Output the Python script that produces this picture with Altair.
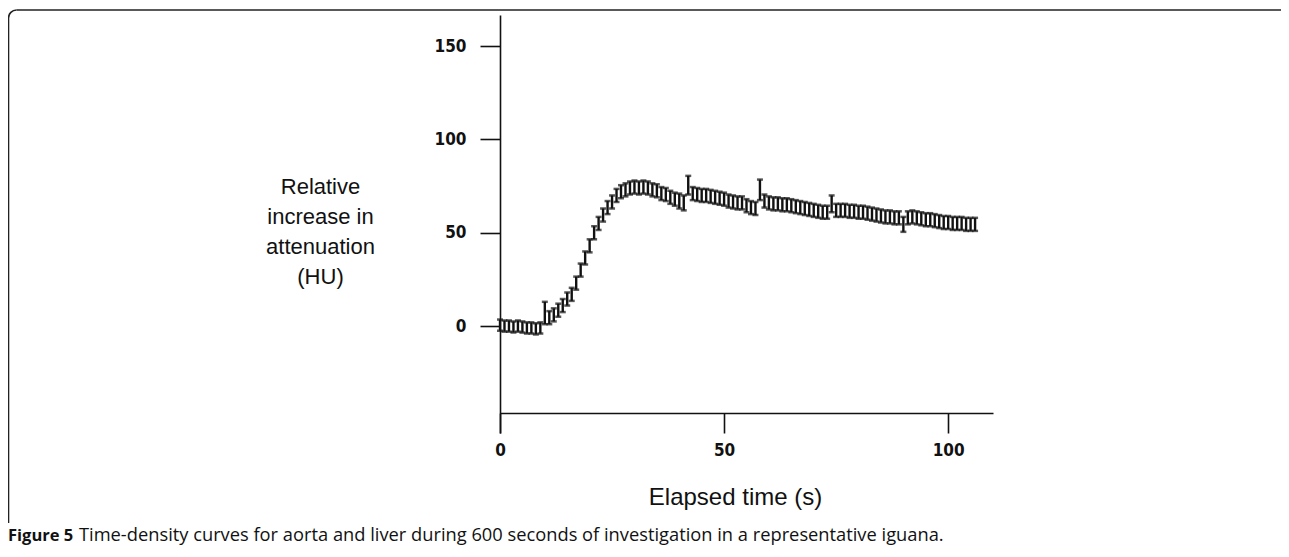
import altair as alt
import pandas as pd

# ---- data ----
times = list(range(107))
means = [0.5, 0, 0, -0.5, 0, -0.5, -1, -1, -1.5, -1,
         7, 4.5, 6, 8.5, 11, 14.5, 17, 23, 30, 36.5,
         43, 50, 55, 59.5, 63.5, 66.5, 70, 72, 73, 74,
         74.5, 74, 74.5, 74, 73, 72.5, 71, 70.5, 69, 68,
         67, 66, 75.5, 71, 70.5, 70, 70, 69.5, 69, 68.5,
         68, 67, 66.5, 66, 66, 64.5, 63.5, 63, 73, 67,
         66, 65.5, 65.5, 65, 65, 64.5, 64, 63.5, 63, 62.5,
         62, 61.5, 61, 61, 65.5, 62, 62, 62, 61.5, 61.5,
         61, 61, 60.5, 60, 59.5, 59, 58.5, 58.5, 58, 58,
         54.5, 58, 58.5, 58, 57.5, 57, 57, 56.5, 56, 55.5,
         55.5, 55, 55, 55, 54.5, 54.5, 54.5]
errs = [3, 3, 3, 3, 3, 3, 3, 3, 3, 3,
        6, 3.5, 3.5, 3.5, 3.5, 3.5, 3.5, 3.5, 3.5, 3.5,
        3.5, 3.5, 3.5, 3.5, 3.5, 3.5, 3.5, 3.5, 3.5, 3.5,
        3.5, 3.5, 3.5, 3.5, 3.5, 3.5, 3.5, 3.5, 3.5, 3.5,
        4, 4, 5, 3.5, 3.5, 3.5, 3.5, 3.5, 3.5, 3.5,
        3.5, 3.5, 3.5, 3.5, 3.5, 3.5, 3.5, 3.5, 5.5, 3.5,
        3.5, 3.5, 3.5, 3.5, 3.5, 3.5, 3.5, 3.5, 3.5, 3.5,
        3.5, 3.5, 3.5, 3.5, 4.5, 3.5, 3.5, 3.5, 3.5, 3.5,
        3.5, 3.5, 3.5, 3.5, 3.5, 3.5, 3.5, 3.5, 3.5, 3.5,
        4, 3.5, 3.5, 3.5, 3.5, 3.5, 3.5, 3.5, 3.5, 3.5,
        3.5, 3.5, 3.5, 3.5, 3.5, 3.5, 3.5]

x_ticks = [0, 50, 100]
y_ticks = [0, 50, 100, 150]
y_title = ["Relative", "increase in", "attenuation", "(HU)"]
x_title = "Elapsed time (s)"
caption_bold = ["Figure 5"]
caption_rest = ["Time-density curves for aorta and liver during 600 seconds of investigation in a representative iguana."]

df = pd.DataFrame({"t": times, "m": means, "e": errs})
df["lo"] = df["m"] - df["e"]
df["hi"] = df["m"] + df["e"]

W, H = 493, 418
TICKFONT = "DejaVu Sans Condensed, DejaVu Sans"

xscale = alt.Scale(domain=[0, 110], nice=False, zero=False)
yscale = alt.Scale(domain=[-57.3, 166.7], nice=False, zero=False)

xaxis = alt.Axis(values=x_ticks, offset=-20, tickSize=20, labelPadding=9,
                 grid=False, title=x_title, titleX=235, titleY=84,
                 titleBaseline="middle", titleAlign="center",
                 titleFont="Liberation Sans", titleFontSize=24,
                 titleFontWeight="normal", titleColor="#111",
                 labelFont=TICKFONT, labelFontSize=17, labelFontWeight="bold",
                 labelColor="#111", domainColor="#111", tickColor="#111",
                 domainWidth=1.6, tickWidth=1.6, labelFlush=False)
yaxis = alt.Axis(values=y_ticks, tickSize=20, labelPadding=14, grid=False,
                 title=y_title, titleAngle=0, titleX=-180, titleY=171,
                 titleBaseline="middle", titleAlign="center", titleLineHeight=30,
                 titleFont="Liberation Sans", titleFontSize=22,
                 titleFontWeight="normal", titleColor="#111",
                 labelFont=TICKFONT, labelFontSize=17, labelFontWeight="bold",
                 labelColor="#111", domainColor="#111", tickColor="#111",
                 domainWidth=1.6, tickWidth=1.6)

base = alt.Chart(df)
bars = base.mark_rule(color="#111", strokeWidth=2.4).encode(
    x=alt.X("t:Q", scale=xscale, axis=xaxis),
    y=alt.Y("lo:Q", scale=yscale, axis=yaxis),
    y2="hi:Q",
)
cap_lo = base.mark_tick(color="#111", orient="horizontal", size=6, thickness=2.5).encode(
    x=alt.X("t:Q", scale=xscale, axis=xaxis),
    y=alt.Y("lo:Q", scale=yscale, axis=yaxis),
)
cap_hi = base.mark_tick(color="#111", orient="horizontal", size=6, thickness=2.5).encode(
    x=alt.X("t:Q", scale=xscale, axis=xaxis),
    y=alt.Y("hi:Q", scale=yscale, axis=yaxis),
)

# caption
cap1 = alt.Chart(pd.DataFrame({"txt": caption_bold})).mark_text(
    align="left", baseline="middle", font="Open Sans", fontSize=16.5,
    fontWeight="bold", color="#111").encode(
    x=alt.value(-492), y=alt.value(521), text="txt:N")
cap2 = alt.Chart(pd.DataFrame({"txt": caption_rest})).mark_text(
    align="left", baseline="middle", font="Open Sans", fontSize=18.3,
    color="#111").encode(
    x=alt.value(-421), y=alt.value(521), text="txt:N")

# frame (top and left border with rounded corner)
frame_df = pd.DataFrame({"k": [1]})
top_line = alt.Chart(frame_df).mark_rule(color="#222", strokeWidth=1.6).encode(
    x=alt.value(-483.5), x2=alt.value(785), y=alt.value(-5))
left_line = alt.Chart(frame_df).mark_rule(color="#222", strokeWidth=1.6).encode(
    x=alt.value(-491.5), y=alt.value(3), y2=alt.value(508))
corner = alt.Chart(frame_df).mark_arc(color="#222", radius=8.8, radius2=7.2,
                                      theta=4.712, theta2=6.2832).encode(
    x=alt.value(-483.5), y=alt.value(3))

chart = alt.layer(bars, cap_lo, cap_hi, cap1, cap2, top_line, left_line, corner).properties(
    width=W, height=H,
    autosize=alt.AutoSizeParams(type="none"),
    padding={"left": 492, "top": 7, "right": 1273 - 492 - W, "bottom": 541 - 7 - H},
    background="white",
).configure_view(stroke=None)

chart.save("out.html", embed_options={"renderer": "svg", "actions": False})
